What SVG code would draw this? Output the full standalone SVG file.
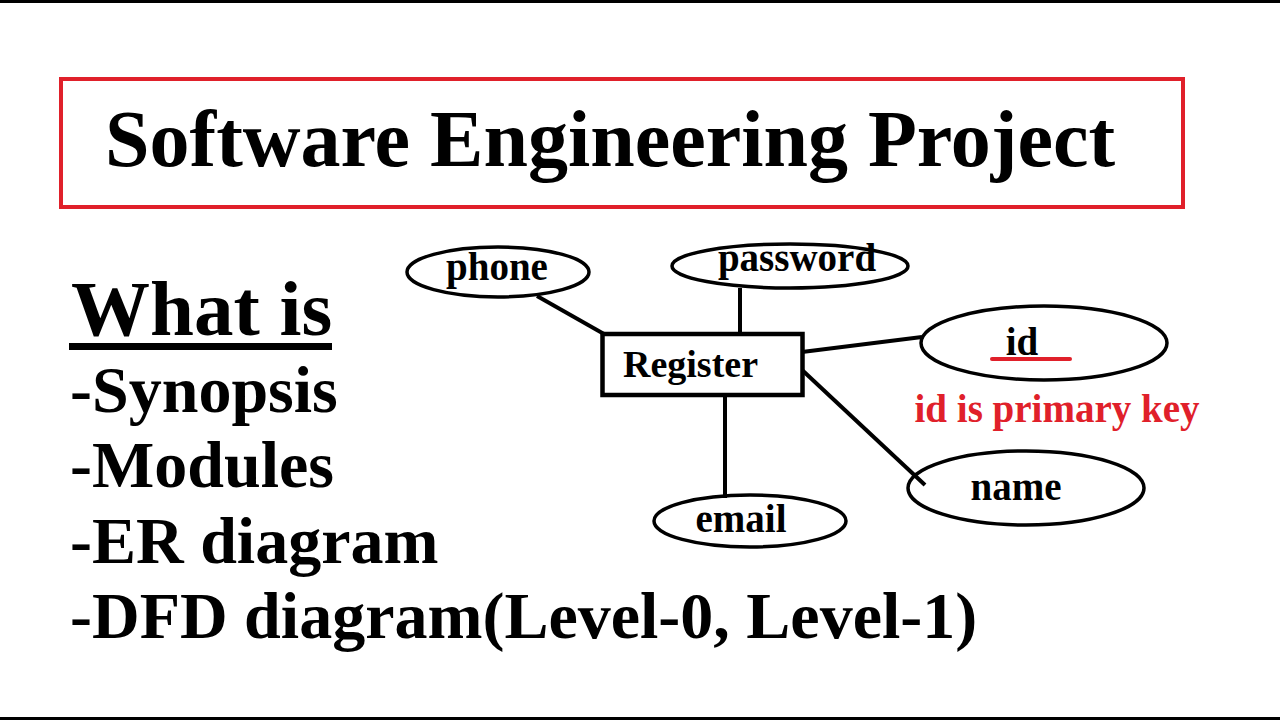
<svg xmlns="http://www.w3.org/2000/svg" width="1280" height="720" viewBox="0 0 1280 720">
<style>
.t{font-family:"Liberation Serif","Times New Roman",serif;font-weight:bold;fill:#000}
.big{font-size:66px}
.lbl{font-size:39px;text-anchor:middle}
.red{fill:#e0202a}
.attr{fill:none;stroke:#000;stroke-width:3.5}
.con{stroke:#000;stroke-width:4;fill:none}
</style>
<rect x="0" y="0" width="1280" height="720" fill="#fff"/>
<rect x="0" y="0" width="1280" height="3" fill="#000"/>
<rect x="0" y="717" width="1280" height="3" fill="#000"/>

<g id="title">
<rect x="61" y="79" width="1122" height="128" fill="none" stroke="#e0202a" stroke-width="4"/>
<text class="t" x="105" y="166" font-size="80">Software Engineering Project</text>
</g>

<g id="list">
<text class="t" x="71" y="335" font-size="79">What is</text>
<rect x="69" y="343" width="263" height="7" fill="#000"/>
<text class="t big" x="70" y="412">-Synopsis</text>
<text class="t big" x="70" y="487">-Modules</text>
<text class="t big" x="70" y="563">-ER diagram</text>
<text class="t big" x="70" y="638">-DFD diagram(Level-0, Level-1)</text>
</g>

<g id="connectors">
<line class="con" x1="537" y1="296" x2="604" y2="334"/>
<line class="con" x1="740" y1="288" x2="740" y2="333"/>
<line class="con" x1="802" y1="352" x2="922" y2="337"/>
<line class="con" x1="801" y1="369" x2="925" y2="485"/>
<line class="con" x1="725" y1="395" x2="725" y2="498"/>
</g>

<g id="phone">
<ellipse class="attr" cx="498" cy="272" rx="91" ry="25"/>
<text class="t lbl" x="497" y="280" font-size="37">phone</text>
</g>

<g id="password">
<ellipse class="attr" cx="790" cy="266" rx="118" ry="22"/>
<text class="t lbl" x="797" y="271">password</text>
</g>

<g id="register">
<rect x="602.5" y="334" width="200" height="61" fill="#fff" stroke="#000" stroke-width="4.5"/>
<text class="t" x="623" y="377" font-size="38">Register</text>
</g>

<g id="id">
<ellipse class="attr" cx="1044" cy="343" rx="123" ry="37"/>
<text class="t lbl" x="1022" y="355">id</text>
<line x1="992" y1="359" x2="1070" y2="359" stroke="#e0202a" stroke-width="4" stroke-linecap="round"/>
</g>

<text id="pk" class="t lbl red" x="1057" y="422">id is primary key</text>

<g id="name">
<ellipse class="attr" cx="1026" cy="488" rx="118" ry="37"/>
<text class="t lbl" x="1016" y="500">name</text>
</g>

<g id="email">
<ellipse class="attr" cx="750" cy="521" rx="96" ry="26"/>
<text class="t lbl" x="741" y="532">email</text>
</g>
</svg>
